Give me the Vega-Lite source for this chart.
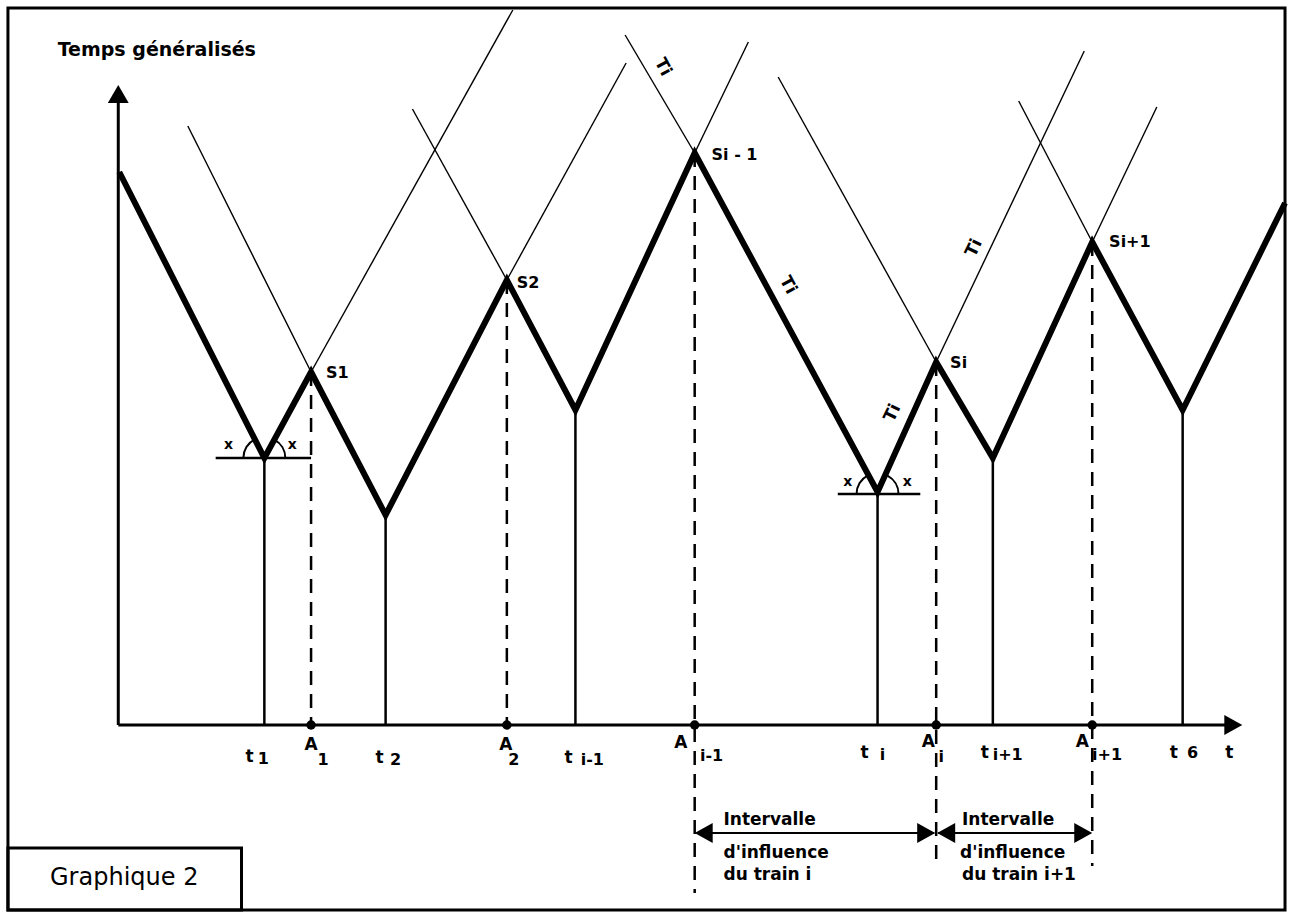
{
"$schema": "https://vega.github.io/schema/vega-lite/v6.json",
"width": 1297, "height": 914, "padding": 0,
"autosize": {"type": "fit", "contains": "padding"},
"background": "white",
"config": {"view": {"stroke": null}},
"datasets": {
"frames": [{"x":-111,"y":717,"x2":1174,"y2":-185},{"x":-111,"y":-123,"x2":124,"y2":-185}],
"axesRules": [{"x":0,"y":0,"x2":0,"y2":624},{"x":0,"y":0,"x2":1118,"y2":0}],
"thin": [
{"x":70,"y":599,"x2":194,"y2":353},
{"x":194,"y":353,"x2":397,"y2":715},
{"x":296,"y":616,"x2":391,"y2":445},
{"x":391,"y":445,"x2":511,"y2":662},
{"x":510,"y":690,"x2":580,"y2":572},
{"x":580,"y":572,"x2":634,"y2":683},
{"x":664,"y":648,"x2":823,"y2":363},
{"x":823,"y":363,"x2":972,"y2":674},
{"x":906,"y":624,"x2":980,"y2":483},
{"x":980,"y":483,"x2":1045,"y2":618}],
"solid": [
{"x":98,"y":267,"x2":194,"y2":267},
{"x":724,"y":231,"x2":807,"y2":231},
{"x":147,"y":267,"x2":147,"y2":0},
{"x":269,"y":210,"x2":269,"y2":0},
{"x":460,"y":315,"x2":460,"y2":0},
{"x":764,"y":233,"x2":764,"y2":0},
{"x":880,"y":267,"x2":880,"y2":0},
{"x":1071,"y":315,"x2":1071,"y2":0}],
"dashed": [
{"x":194,"y":353,"x2":194,"y2":0},
{"x":391,"y":445,"x2":391,"y2":0},
{"x":580,"y":572,"x2":580,"y2":-168},
{"x":823,"y":363,"x2":823,"y2":-141},
{"x":980,"y":483,"x2":980,"y2":-141}],
"envelope": [
{"i":0,"x":1,"y":553},{"i":1,"x":147,"y":267},{"i":2,"x":194,"y":353},{"i":3,"x":269,"y":210},
{"i":4,"x":391,"y":445},{"i":5,"x":460,"y":315},{"i":6,"x":580,"y":572},{"i":7,"x":764,"y":233},
{"i":8,"x":823,"y":363},{"i":9,"x":880,"y":267},{"i":10,"x":980,"y":483},{"i":11,"x":1071,"y":315},
{"i":12,"x":1174,"y":522}],
"shafts": [{"x":582,"y":-108,"x2":821,"y2":-108},{"x":825,"y":-108,"x2":978,"y2":-108}],
"arrowsLeft": [{"x":580,"y":-108},{"x":824,"y":-108}],
"arrowsRight": [{"x":822,"y":-108},{"x":980,"y":-108},{"x":1131,"y":0}],
"arrowsUp": [{"x":0,"y":640}],
"dots": [{"x":194,"y":0},{"x":391,"y":0},{"x":580,"y":0},{"x":823,"y":0},{"x":980,"y":0}],
"arcs": [{"x":147,"y":267},{"x":764,"y":231}],
"title": [{"x":-61,"y":675,"label":"Temps généralisés"}],
"graph": [{"x":6,"y":-153,"label":"Graphique 2"}],
"mainLabels": [
{"x":132,"y":-32,"label":"t"},{"x":194,"y":-20,"label":"A"},{"x":263,"y":-33,"label":"t"},
{"x":390,"y":-20,"label":"A"},{"x":453,"y":-33,"label":"t"},{"x":566,"y":-18,"label":"A"},
{"x":751,"y":-28,"label":"t"},{"x":815,"y":-17,"label":"A"},{"x":872,"y":-28,"label":"t"},
{"x":970,"y":-17,"label":"A"},{"x":1062,"y":-28,"label":"t"},{"x":1118,"y":-28,"label":"t"}],
"subLabels": [
{"x":146,"y":-34,"label":"1"},{"x":206,"y":-35,"label":"1"},{"x":279,"y":-35,"label":"2"},
{"x":398,"y":-35,"label":"2"},{"x":477,"y":-35,"label":"i-1"},{"x":597,"y":-31,"label":"i-1"},
{"x":769,"y":-30,"label":"i"},{"x":828,"y":-32,"label":"i"},{"x":895,"y":-30,"label":"i+1"},
{"x":995,"y":-30,"label":"i+1"},{"x":1081,"y":-28,"label":"6"}],
"peaks": [
{"x":209,"y":352,"label":"S1"},{"x":401,"y":442,"label":"S2"},{"x":597,"y":570,"label":"Si - 1"},
{"x":837,"y":362,"label":"Si"},{"x":997,"y":483,"label":"Si+1"}],
"xs": [{"x":111,"y":280,"label":"x"},{"x":175,"y":280,"label":"x"},{"x":734,"y":243,"label":"x"},{"x":794,"y":243,"label":"x"}],
"tiDown": [{"x":548,"y":658,"label":"Ti"},{"x":674,"y":440,"label":"Ti"}],
"tiUp": [{"x":861,"y":477,"label":"Ti"},{"x":779,"y":312,"label":"Ti"}],
"interval": [
{"x":609,"y":-95,"label":"Intervalle"},{"x":609,"y":-128,"label":"d'influence"},{"x":609,"y":-150,"label":"du train i"},
{"x":849,"y":-95,"label":"Intervalle"},{"x":847,"y":-128,"label":"d'influence"},{"x":849,"y":-150,"label":"du train i+1"}]
},
"encoding": {
"x": {"field":"x","type":"quantitative","scale":{"domain":[-119,1178],"nice":false,"zero":false},"axis":null},
"y": {"field":"y","type":"quantitative","scale":{"domain":[-189,725],"nice":false,"zero":false},"axis":null}
},
"layer": [
{"data":{"name":"frames"},"mark":{"type":"rect","filled":false,"stroke":"black","strokeWidth":3},
 "encoding":{"x2":{"field":"x2"},"y2":{"field":"y2"}}},
{"data":{"name":"axesRules"},"mark":{"type":"rule","color":"black","strokeWidth":3},
 "encoding":{"x2":{"field":"x2"},"y2":{"field":"y2"}}},
{"data":{"name":"thin"},"mark":{"type":"rule","color":"black","strokeWidth":1.4},
 "encoding":{"x2":{"field":"x2"},"y2":{"field":"y2"}}},
{"data":{"name":"solid"},"mark":{"type":"rule","color":"black","strokeWidth":2.5},
 "encoding":{"x2":{"field":"x2"},"y2":{"field":"y2"}}},
{"data":{"name":"dashed"},"mark":{"type":"rule","color":"black","strokeWidth":2.5,"strokeDash":[14,9]},
 "encoding":{"x2":{"field":"x2"},"y2":{"field":"y2"}}},
{"data":{"name":"envelope"},"mark":{"type":"line","color":"black","strokeWidth":6,"strokeJoin":"miter"},
 "encoding":{"order":{"field":"i","type":"quantitative"}}},
{"data":{"name":"shafts"},"mark":{"type":"rule","color":"black","strokeWidth":2},
 "encoding":{"x2":{"field":"x2"},"y2":{"field":"y2"}}},
{"data":{"name":"arrowsLeft"},"mark":{"type":"point","filled":true,"color":"black","opacity":1,"shape":"M 0 0 L 1 -0.55 L 1 0.55 Z","size":1296}},
{"data":{"name":"arrowsRight"},"mark":{"type":"point","filled":true,"color":"black","opacity":1,"shape":"M 0 0 L -1 -0.55 L -1 0.55 Z","size":1296}},
{"data":{"name":"arrowsUp"},"mark":{"type":"point","filled":true,"color":"black","opacity":1,"shape":"M 0 0 L -0.58 1 L 0.58 1 Z","size":1296}},
{"data":{"name":"dots"},"mark":{"type":"point","filled":true,"color":"black","opacity":1,"shape":"circle","size":90}},
{"data":{"name":"arcs"},"mark":{"type":"point","filled":false,"color":"black","opacity":1,"strokeWidth":2,"shape":"M -1 0 A 1 1 0 0 1 -0.46 -0.89 M 0.47 -0.88 A 1 1 0 0 1 1 0","size":1764}},
{"data":{"name":"title"},"mark":{"type":"text","font":"DejaVu Sans","fontSize":19,"fontWeight":"bold","align":"left","baseline":"middle","color":"black"},
 "encoding":{"text":{"field":"label"}}},
{"data":{"name":"graph"},"mark":{"type":"text","font":"DejaVu Sans","fontSize":24,"align":"center","baseline":"middle","color":"black"},
 "encoding":{"text":{"field":"label"}}},
{"data":{"name":"mainLabels"},"mark":{"type":"text","font":"DejaVu Sans","fontSize":17,"fontWeight":"bold","align":"center","baseline":"middle","color":"black"},
 "encoding":{"text":{"field":"label"}}},
{"data":{"name":"subLabels"},"mark":{"type":"text","font":"DejaVu Sans","fontSize":16,"fontWeight":"bold","align":"center","baseline":"middle","color":"black"},
 "encoding":{"text":{"field":"label"}}},
{"data":{"name":"peaks"},"mark":{"type":"text","font":"DejaVu Sans","fontSize":16,"fontWeight":"bold","align":"left","baseline":"middle","color":"black"},
 "encoding":{"text":{"field":"label"}}},
{"data":{"name":"xs"},"mark":{"type":"text","font":"DejaVu Sans","fontSize":14,"fontWeight":"bold","align":"center","baseline":"middle","color":"black"},
 "encoding":{"text":{"field":"label"}}},
{"data":{"name":"tiDown"},"mark":{"type":"text","font":"DejaVu Sans","fontSize":17,"fontWeight":"bold","align":"center","baseline":"middle","color":"black","angle":62},
 "encoding":{"text":{"field":"label"}}},
{"data":{"name":"tiUp"},"mark":{"type":"text","font":"DejaVu Sans","fontSize":17,"fontWeight":"bold","align":"center","baseline":"middle","color":"black","angle":296},
 "encoding":{"text":{"field":"label"}}},
{"data":{"name":"interval"},"mark":{"type":"text","font":"DejaVu Sans","fontSize":17,"fontWeight":"bold","align":"left","baseline":"middle","color":"black"},
 "encoding":{"text":{"field":"label"}}}
]
}
